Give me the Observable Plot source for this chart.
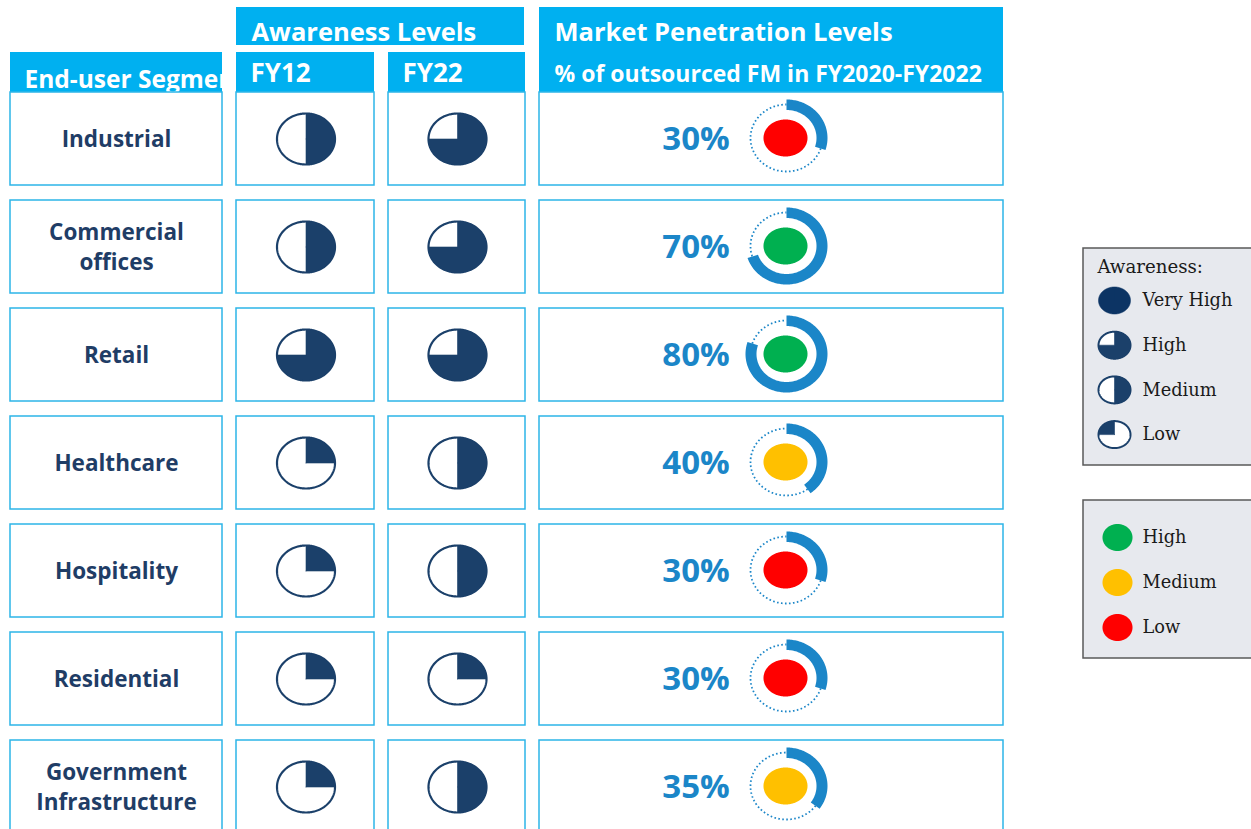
<!DOCTYPE html>
<html><head><meta charset="utf-8">
<script src="https://cdn.jsdelivr.net/npm/d3@7"></script>
<script src="https://cdn.jsdelivr.net/npm/@observablehq/plot@0.6"></script>
<style>html,body{margin:0;padding:0;background:#fff;overflow:hidden}</style>
</head><body><div id="chart"></div>
<script>
// ---------- data ----------
const segments = ["Industrial", "Commercial\noffices", "Retail", "Healthcare", "Hospitality", "Residential", "Government\nInfrastructure"];
const awarenessFY12 = ["Medium", "Medium", "High", "Low", "Low", "Low", "Low"];
const awarenessFY22 = ["High", "High", "High", "Medium", "Medium", "Low", "Medium"];
const penetration = [30, 70, 80, 40, 30, 30, 35];
const penetrationLevel = ["Low", "High", "High", "Medium", "Low", "Low", "Medium"];
const awarenessLegend = ["Very High", "High", "Medium", "Low"];
const levelLegend = ["High", "Medium", "Low"];
const awarenessFraction = {"Very High": 1, "High": 0.75, "Medium": 0.5, "Low": 0.25};
const levelColor = {"High": "#00b050", "Medium": "#ffc000", "Low": "#ff0000"};
const headerSegment = "End-user Segment";
const headerAwareness = "Awareness Levels";
const headerYears = ["FY12", "FY22"];
const headerMarket = "Market Penetration Levels";
const headerMarketSub = "% of outsourced FM in FY2020-FY2022";
const legendTitle = "Awareness:";

// ---------- layout & style ----------
const W = 1251, H = 829;
const CYAN = "#00b0f0", BORDER = "#2cb5e8", NAVY = "#1b406a", TEXTNAVY = "#1f3d66", BLUE = "#1b86c8";
const SANS = "Open Sans", SERIF = "DejaVu Serif";
const cols = {seg: [10, 222], fy12: [236, 374], fy22: [388, 525], mkt: [539, 1003]};
const rowTop = i => 92 + i * 108, rowH = 93;

const rows = segments.map((s, i) => ({
  segment: s, top: rowTop(i), bottom: rowTop(i) + rowH, cy: rowTop(i) + rowH / 2,
  fy12: awarenessFY12[i], fy22: awarenessFY22[i], pct: penetration[i], level: penetrationLevel[i]
}));

const cells = rows.flatMap(r => Object.values(cols).map(c => ({x1: c[0], x2: c[1], y1: r.top, y2: r.bottom})));

// geometry helpers (angle measured clockwise from 12 o'clock)
function arc(id, cx, cy, rx, ry, a0, a1, extra = {}) {
  const n = Math.max(2, Math.ceil(Math.abs(a1 - a0) / (Math.PI / 120)));
  return d3.range(n + 1).map(k => {
    const a = a0 + (a1 - a0) * k / n;
    return {id, x: cx + rx * Math.sin(a), y: cy - ry * Math.cos(a), ...extra};
  });
}
function sector(id, cx, cy, rx, ry, a0, a1, extra = {}) {
  return [{id, x: cx, y: cy, ...extra}, ...arc(id, cx, cy, rx, ry, a0, a1, extra), {id, x: cx, y: cy, ...extra}];
}
function annulus(id, cx, cy, rxo, ryo, rxi, ryi, a0, a1, extra = {}) {
  return [...arc(id, cx, cy, rxo, ryo, a0, a1, extra), ...arc(id, cx, cy, rxi, ryi, a1, a0, extra)];
}
const TAU = 2 * Math.PI;

// harvey balls in table
const hb = {rx: 29, ry: 25.5};
const ballOutlines = [], ballFills = [];
rows.forEach((r, i) => {
  [["fy12", r.fy12], ["fy22", r.fy22]].forEach(([k, lvl]) => {
    const cx = (cols[k][0] + cols[k][1]) / 2 + 0.5, cy = r.cy;
    ballOutlines.push(...arc(`o${i}${k}`, cx, cy, hb.rx, hb.ry, 0, TAU));
    ballFills.push(...sector(`f${i}${k}`, cx, cy, hb.rx, hb.ry, 0, awarenessFraction[lvl] * TAU));
  });
});

// donuts
const dn = {cx: 786, tx: 695.5};
const arcsBlue = [], dotted = [], inner = [];
rows.forEach((r, i) => {
  const a = r.pct / 100 * TAU, cy = r.cy - 1;
  arcsBlue.push(...annulus(`b${i}`, dn.cx, cy, 41, 38.5, 30, 28, 0, a));
  dotted.push(...arc(`d${i}`, dn.cx, cy, 36, 33.5, a, TAU));
  inner.push(...arc(`i${i}`, dn.cx - 1, r.cy - 1, 22, 18.5, 0, TAU, {color: levelColor[r.level]}));
});

// legends
const lg1 = {x1: 1083, x2: 1260, y1: 248, y2: 465, iconX: 1114, textX: 1142, y0: 300, step: 44.7};
const lg2 = {x1: 1083, x2: 1260, y1: 500, y2: 658, iconX: 1117, textX: 1142, y0: 537, step: 45};
const legendStart = {"Very High": 0, "High": 0, "Medium": 0, "Low": 0.75};
const legOutlines = [], legFills = [];
awarenessLegend.forEach((lvl, j) => {
  const cy = lg1.y0 + j * lg1.step, f = awarenessFraction[lvl], s = legendStart[lvl];
  if (f < 1) legOutlines.push(...arc(`lo${j}`, lg1.iconX, cy, 16, 13.5, 0, TAU));
  legFills.push(...sector(`lf${j}`, lg1.iconX, cy, 16, 13.5, s * TAU, (s + f) * TAU, {color: f === 1 ? "#0c3464" : NAVY}));
});
const legDots = [];
levelLegend.forEach((lvl, j) => {
  legDots.push(...arc(`ld${j}`, lg2.iconX, lg2.y0 + j * lg2.step, 15, 13.5, 0, TAU, {color: levelColor[lvl]}));
});

const headerRects = [
  {x1: 236, x2: 524, y1: 7, y2: 45},
  {x1: 236, x2: 374, y1: 52, y2: 92},
  {x1: 388, x2: 525, y1: 52, y2: 92},
  {x1: 539, x2: 1003, y1: 7, y2: 92}
];
const headerTexts = [
  {t: headerAwareness, x: 251, y: 40, s: 25.5},
  {t: headerYears[0], x: 250, y: 81, s: 26},
  {t: headerYears[1], x: 402, y: 81, s: 26},
  {t: headerMarket, x: 554, y: 40, s: 25.5},
  {t: headerMarketSub, x: 554, y: 81, s: 23}
];

const chart = Plot.plot({
  width: W, height: H, margin: 0,
  x: {domain: [0, W], range: [0, W], axis: null},
  y: {domain: [0, H], range: [0, H], axis: null},
  color: {type: "identity"},
  style: {background: "white"},
  marks: [
    // end-user header (text overflows, then masked)
    Plot.rect([{x1: 10, x2: 222, y1: 52, y2: 92}], {x1: "x1", x2: "x2", y1: "y1", y2: "y2", fill: CYAN}),
    Plot.text([headerSegment], {x: 24, y: 87, text: d => d, textAnchor: "start", lineAnchor: "bottom", fill: "white", fontFamily: SANS, fontWeight: 700, fontSize: 24.5}),
    Plot.rect([{x1: 222.5, x2: 236, y1: 48, y2: 91}], {x1: "x1", x2: "x2", y1: "y1", y2: "y2", fill: "white"}),
    // other headers
    Plot.rect(headerRects, {x1: "x1", x2: "x2", y1: "y1", y2: "y2", fill: CYAN}),
    Plot.text(headerTexts, {x: "x", y: "y", text: "t", fontSize: d => d.s, textAnchor: "start", lineAnchor: "bottom", fill: "white", fontFamily: SANS, fontWeight: 700}),
    // table cells
    Plot.rect(cells, {x1: "x1", x2: "x2", y1: "y1", y2: "y2", fill: "white", stroke: BORDER, strokeWidth: 1.5}),
    // segment labels
    Plot.text(rows, {x: 116, y: d => d.cy - 1.5, text: "segment", fill: TEXTNAVY, fontFamily: SANS, fontWeight: 700, fontSize: 22.5, lineHeight: 1.32, textAnchor: "middle", lineAnchor: "middle"}),
    // harvey balls
    Plot.line(ballOutlines, {x: "x", y: "y", z: "id", fill: "white", stroke: NAVY, strokeWidth: 2.2}),
    Plot.line(ballFills, {x: "x", y: "y", z: "id", fill: NAVY, stroke: NAVY, strokeWidth: 0.6}),
    // donuts
    Plot.line(dotted, {x: "x", y: "y", z: "id", stroke: BLUE, strokeWidth: 1.8, strokeDasharray: "1.6 2.4", strokeLinecap: "butt"}),
    Plot.line(arcsBlue, {x: "x", y: "y", z: "id", fill: BLUE, stroke: "none"}),
    Plot.line(inner, {x: "x", y: "y", z: "id", fill: "color", stroke: "none"}),
    Plot.text(rows, {x: dn.tx, y: "cy", text: d => `${d.pct}%`, fill: BLUE, fontFamily: SANS, fontWeight: 700, fontSize: 33, textAnchor: "middle", lineAnchor: "middle"}),
    // legend 1
    Plot.rect([lg1], {x1: "x1", x2: "x2", y1: "y1", y2: "y2", fill: "#e7e9ee", stroke: "#595959", strokeWidth: 1.5}),
    Plot.text([legendTitle], {x: 1097, y: 267, text: d => d, textAnchor: "start", lineAnchor: "middle", fill: "#1a1a1a", fontFamily: SERIF, fontSize: 18.2}),
    Plot.line(legOutlines, {x: "x", y: "y", z: "id", fill: "white", stroke: NAVY, strokeWidth: 2}),
    Plot.line(legFills, {x: "x", y: "y", z: "id", fill: "color", stroke: "color", strokeWidth: 0.6}),
    Plot.text(awarenessLegend, {x: lg1.textX, y: (d, j) => lg1.y0 + j * lg1.step, text: d => d, textAnchor: "start", lineAnchor: "middle", fill: "#1a1a1a", fontFamily: SERIF, fontSize: 17.8}),
    // legend 2
    Plot.rect([lg2], {x1: "x1", x2: "x2", y1: "y1", y2: "y2", fill: "#e7e9ee", stroke: "#595959", strokeWidth: 1.5}),
    Plot.line(legDots, {x: "x", y: "y", z: "id", fill: "color", stroke: "none"}),
    Plot.text(levelLegend, {x: lg2.textX, y: (d, j) => lg2.y0 + j * lg2.step, text: d => d, textAnchor: "start", lineAnchor: "middle", fill: "#1a1a1a", fontFamily: SERIF, fontSize: 17.8})
  ]
});
document.getElementById("chart").append(chart);
</script>
</body></html>
